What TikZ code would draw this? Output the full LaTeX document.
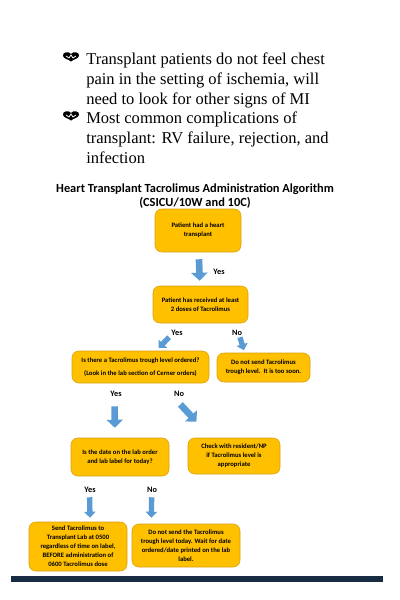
\documentclass[tikz,border=0pt]{standalone}
\usepackage{fontspec}
\setmainfont{Liberation Serif}
\newfontfamily\flowfont{Carlito}
\usetikzlibrary{arrows.meta}
\definecolor{boxfill}{RGB}{255,192,0}
\definecolor{boxline}{RGB}{214,160,20}
\definecolor{arrowblue}{RGB}{91,155,213}
\definecolor{barnavy}{RGB}{23,43,67}
\tikzset{
  flowbox/.style={draw=boxline,fill=boxfill,rounded corners=5pt,inner sep=0pt,align=center,
    font=\flowfont\bfseries\fontsize{5}{6.8}\selectfont,line width=0.4pt},
  blockarrow/.style={draw=arrowblue,line width=5pt,-{Triangle[length=6pt,width=12pt]}},
  smallarrow/.style={draw=arrowblue,line width=4pt,-{Triangle[length=4.5pt,width=8.5pt]}},
  answer/.style={font=\flowfont\bfseries\fontsize{6.2}{7}\selectfont,inner sep=0pt},
  bullettext/.style={anchor=north west,inner sep=0pt,align=left,font=\fontsize{12.4}{14.75}\selectfont},
  heartmark/.pic={
    \fill[black] (0,3) .. controls (-2,6) and (-9,5) .. (-8,1) .. controls (-7,-2) and (-3,-2) .. (0,-4.5)
      .. controls (3,-2) and (7,-2) .. (8,1) .. controls (9,5) and (2,6) .. (0,3) -- cycle;
    \draw[white,line width=0.6pt] (-5,1) -- (-2,-1) -- (0,2) -- (2,-1) -- (5,1);
  }
}
\begin{document}
\begin{tikzpicture}[x=0.75pt,y=0.75pt,yscale=-1,xscale=1]
\useasboundingbox (0,0) rectangle (400,600);

% bullets
\path (71,57) pic {heartmark};
\path (71,116) pic {heartmark};
\node[bullettext] (note1) at (86,53) {Transplant patients do not feel chest\\pain in the setting of ischemia, will\\need to look for other signs of MI};
\node[bullettext] (note2) at (86,112) {Most common complications of\\transplant: RV failure, rejection, and\\infection};

% title
\node[inner sep=0pt,align=center,font=\flowfont\bfseries\fontsize{9.3}{9.9}\selectfont] (title) at (195,196) {Heart Transplant Tacrolimus Administration Algorithm\\(CSICU/10W and 10C)};

% boxes
\node[flowbox,minimum width=64.5pt,minimum height=32.25pt] (heart) at (198,230.5) {Patient had a heart\\transplant};
\node[flowbox,minimum width=71.25pt,minimum height=27.75pt] (doses) at (200.5,304.5) {Patient has received at least\\2 doses of Tacrolimus};
\node[flowbox,minimum width=102.75pt,minimum height=24pt] (trough) at (140.5,367) {Is there a Tacrolimus trough level ordered?\\[3pt](Look in the lab section of Cerner orders)};
\node[flowbox,minimum width=69.75pt,minimum height=21.75pt] (toosoon) at (263.5,367.5) {Do not send Tacrolimus\\trough level.\ \ It is too soon.};
\node[flowbox,minimum width=73.5pt,minimum height=28.5pt] (today) at (120,457) {Is the date on the lab order\\and lab label for today?};
\node[flowbox,minimum width=69pt,minimum height=27pt] (check) at (234,456) {Check with resident/NP\\if Tacrolimus level is\\appropriate};
\node[flowbox,minimum width=73.5pt,minimum height=36.75pt] (send) at (78,546.5) {Send Tacrolimus to\\Transplant Lab at 0500\\regardless of time on label,\\BEFORE administration of\\0600 Tacrolimus dose};
\node[flowbox,minimum width=81pt,minimum height=32.25pt] (wait) at (186,545.5) {Do not send the Tacrolimus\\trough level today. Wait for date\\ordered/date printed on the lab\\label.};

% arrows
\draw[blockarrow,shorten <=5.25pt,shorten >=3.75pt] (heart) -- (doses);
\draw[smallarrow,shorten <=14.5pt,shorten >=2.8pt] (doses) -- (trough);
\draw[smallarrow,shorten <=11pt,shorten >=2pt] (doses.-28) -- (toosoon.142);
\draw[blockarrow,shorten <=17.25pt,shorten >=7.5pt] (trough.212) -- (today.105);
\draw[blockarrow,shorten <=21.75pt,shorten >=16.5pt] (trough.-39) -- (check.141);
\draw[smallarrow,shorten <=15.75pt,shorten >=3pt] (today.212) -- (send.64);
\draw[smallarrow,shorten <=15.75pt,shorten >=4.5pt] (today.-31.5) -- (wait.148.4);

% answers
\node[answer] (yes1) at (219,272) {Yes};
\node[answer] (yes2) at (177,333) {Yes};
\node[answer] (no2) at (237,333) {No};
\node[answer] (yes3) at (116,394) {Yes};
\node[answer] (no3) at (179,394) {No};
\node[answer] (yes4) at (90,490) {Yes};
\node[answer] (no4) at (152,490) {No};

% rule
\fill[barnavy] (11,576) rectangle (383,582);
\end{tikzpicture}
\end{document}
